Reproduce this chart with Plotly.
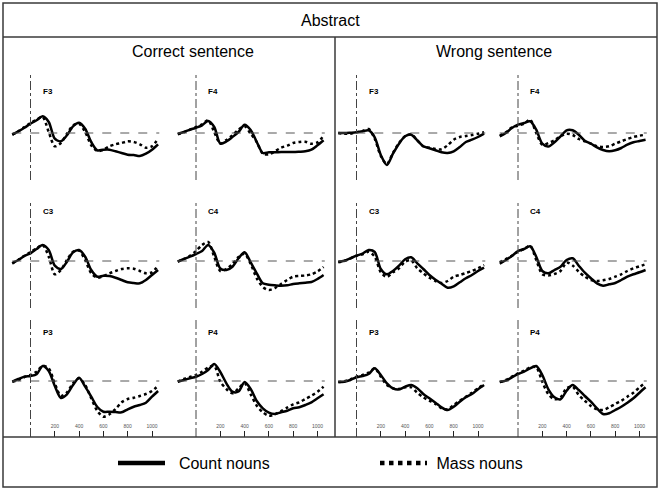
import plotly.graph_objects as go

W, H = 661, 490

# time axis of every panel (ms after noun onset)
time_ms = [-150, -100, -50, 0, 50, 100, 150, 200, 250, 300, 350, 400, 450,
           500, 550, 600, 650, 700, 750, 800, 850, 900, 950, 1000, 1050]
tick_ms = [200, 400, 600, 800, 1000]
tick_text = ["200", "400", "600", "800", "1000"]

electrode_rows = [["F3", "F4"], ["C3", "C4"], ["P3", "P4"]]
conditions = ["Correct sentence", "Wrong sentence"]
series_names = ["Count nouns", "Mass nouns"]

# amplitudes, positive = up (arbitrary units)
correct_F3_count = [-1.7, 1.7, 5.3, 9.3, 12.7, 16.7, 11, -5.7, -8.3, -2.3, 6.7, 10.3, 4.3, -9, -17.3, -16.7, -16.7, -18.3, -20, -21.7, -22, -23, -20.7, -16.7, -11.3]
correct_F3_mass = [-1.7, 1.7, 6, 10, 13.3, 16, 1, -13.3, -10, -0.7, 7.7, 9.3, 1, -12.3, -18, -16.7, -13.3, -11.3, -10, -8.3, -9, -11.3, -14.7, -13.3, -5.7]
correct_F4_count = [-0.7, 1, 3.3, 5.3, 7.7, 12, 6, -10.5, -8.5, -4, 1, 8.3, 3, -9, -20, -19.3, -19.3, -19, -19, -19, -18.7, -18.3, -16.7, -12.3, -7.3]
correct_F4_mass = [-1.3, 0.7, 3.3, 6, 8.7, 12.7, 1, -10.7, -7, -2.3, 3.3, 6.7, -0.7, -9, -20.7, -21.3, -18.3, -14.7, -12.7, -10, -9, -8.7, -10.7, -9.3, -2.7]
correct_C3_count = [-2.3, 1, 5, 7.7, 12, 16, 11, -4.7, -8, -0.7, 8.7, 11, 4.3, -9, -15.7, -14.7, -15, -16.7, -19, -21.3, -22, -22.3, -19, -14, -9]
correct_C3_mass = [-2.3, 1.3, 5.3, 8.7, 12.7, 16, 4.3, -13.3, -9, 1, 9.3, 10.3, 1, -12.3, -16.7, -15, -12.3, -10, -8, -7.3, -7.7, -10, -12.3, -11.3, -4.7]
correct_C4_count = [-0.7, 2, 4.3, 7, 10, 16, 8.3, -7.5, -9, -5.7, 2.7, 8.7, -1.3, -12.3, -22.3, -23.7, -24.3, -24.7, -24.3, -23, -22.3, -21.7, -21, -18, -14]
correct_C4_mass = [-0.7, 2, 5.3, 10, 16, 19, 4.3, -10, -8, -3, 4, 7.3, -3, -17.3, -26, -29, -27, -23, -19, -15.7, -15, -14.5, -13.3, -10.5, -6]
correct_P3_count = [-0.7, 2, 4.3, 5, 6.7, 15, 10, -5, -17, -13.3, -4, 3.3, -5.7, -15.7, -26, -30.7, -30.7, -31, -31.3, -28.3, -25.7, -24, -21.7, -15.7, -10]
correct_P3_mass = [-0.7, 1, 4, 6, 9.3, 15.3, 12.7, -2.3, -15, -11.3, -2.3, 2.7, -4, -17.3, -30, -35.7, -33.3, -28, -21.3, -18, -16.7, -15, -13, -10, -4.7]
correct_P4_count = [-0.7, 1, 2.7, 4.3, 7, 11, 17, 9, -2.3, -10.7, -10.5, -1, -8, -20, -27.3, -31.7, -33, -31.3, -29.7, -27.3, -26.3, -24, -21.3, -17.3, -13.3]
correct_P4_mass = [-0.7, 2, 4, 6, 9.3, 13.5, 15, -0.7, -8, -12.3, -7.3, -2.3, -13.3, -24.7, -31.3, -34.7, -33.3, -30, -26.7, -23.3, -21.3, -18, -14.7, -10.7, -5.7]

wrong_F3_count = [0, 0, 0.3, 0.7, 1.7, 2.7, -4.3, -22, -32, -20.7, -10.7, -3.3, -1.7, -7.3, -13.3, -15.3, -17.3, -19.3, -20, -18.3, -14, -9, -6.7, -4, -0.7]
wrong_F3_mass = [0, -0.7, -0.7, 0.7, 2, 4, -5.7, -23, -31, -20, -10, -3.3, -1.3, -7.3, -13.3, -14.7, -16, -16.3, -12.3, -6.7, -4, -3, -2, -0.7, 0.7]
wrong_F4_count = [-3.3, 0, 5, 8.3, 10, 11.7, 3.3, -10.7, -13.5, -9.3, -3.3, 2.7, 2.7, -1.7, -7.7, -10.7, -14.3, -17, -18.3, -17.3, -15, -11.7, -9.3, -8, -6.7]
wrong_F4_mass = [-2.7, 0.7, 5.7, 7.3, 9.3, 13.3, 0, -11.7, -10, -7.3, -3.3, -0.7, -2, -6, -8.3, -10.7, -13.3, -14, -13.3, -10.7, -8.3, -6, -4, -2.7, -1.7]
wrong_C3_count = [-0.7, 0.3, 2.7, 5.3, 7.3, 11, 9, -8, -13.3, -10, -4.7, 1.7, 3.7, -2.3, -8, -14, -18.7, -22.7, -26.7, -25.3, -21.3, -17.3, -14, -10, -6.7]
wrong_C3_mass = [-1.3, 0, 2.7, 5.3, 6.7, 9.3, 4.3, -11.3, -16, -11.3, -7.3, -0.7, 0.7, -7.3, -12.3, -16.7, -20, -22, -20, -15.7, -14, -12, -10, -7.3, -4]
wrong_C4_count = [-2.7, 1, 5, 10, 12, 14.7, 4.3, -10, -12.3, -9, -5.7, 1, 2.7, -4.7, -11.7, -17.3, -22.3, -24.7, -23.3, -22, -19, -15.7, -13.3, -11.3, -9]
wrong_C4_mass = [-1.3, 2, 5.3, 9.3, 12, 15.3, 1, -13.3, -14.5, -13, -10, -1.5, -4.5, -10.7, -15.7, -19, -20, -19.3, -18, -15.7, -13.3, -10, -7.3, -5.3, -3.3]
wrong_P3_count = [-1, -0.7, 1, 3.7, 5, 7, 12.7, 6, -2.3, -7.3, -8.3, -5.7, -4, -7.3, -13, -17.3, -21.7, -26.3, -29, -25.7, -20.7, -16.3, -13, -8.3, -4]
wrong_P3_mass = [-1, -0.3, 1.7, 4.3, 6, 8.3, 12.7, 4.3, -4, -7.3, -8, -6.3, -6.3, -11.7, -16.3, -19.7, -23, -27.3, -28.3, -24, -19.7, -15.7, -11.7, -7.3, -3]
wrong_P4_count = [-1, 0.3, 3.7, 7, 9.3, 12.7, 15, 6, -8.3, -16.3, -18.3, -9.7, -4, -9, -15, -20.7, -27.3, -33, -32.3, -29, -25.7, -21.7, -17.3, -11.7, -6.3]
wrong_P4_mass = [-1, 1, 4.3, 7.7, 10.3, 13.7, 13.7, -0.7, -13.3, -18.3, -16.3, -7.3, -5.7, -14, -19.7, -25, -28.3, -29, -26.3, -23, -19.7, -15.7, -11.7, -6.3, -1.7]

panel_data = [
    [(correct_F3_count, correct_F3_mass), (correct_F4_count, correct_F4_mass),
     (wrong_F3_count, wrong_F3_mass), (wrong_F4_count, wrong_F4_mass)],
    [(correct_C3_count, correct_C3_mass), (correct_C4_count, correct_C4_mass),
     (wrong_C3_count, wrong_C3_mass), (wrong_C4_count, wrong_C4_mass)],
    [(correct_P3_count, correct_P3_mass), (correct_P4_count, correct_P4_mass),
     (wrong_P3_count, wrong_P3_mass), (wrong_P4_count, wrong_P4_mass)],
]

# --- geometry (pixels of the 661x490 page) ---
PX_PER_MS = 0.1215
zero_px = [30.5, 196, 356.5, 518]     # stimulus onset of each column
base_px = [133, 261, 381]             # baseline of each row
X_RANGE = [-200, 1100]
Y_RANGE = [-56, 64]                   # 1 unit = 1 px
label_y = [42, 49, 49]
FONT = "Liberation Sans, Arial, sans-serif"
BOX = "#3a3a3a"


def fx(p):
    return p / W


def fy(p):
    return 1 - p / H


fig = go.Figure()
layout = dict(width=W, height=H, margin=dict(l=0, r=0, t=0, b=0),
              paper_bgcolor="white", plot_bgcolor="rgba(0,0,0,0)",
              font=dict(family=FONT, color="black"), shapes=[], annotations=[])

idx = 0
for r in range(3):
    for c in range(4):
        idx += 1
        sfx = "" if idx == 1 else str(idx)
        count, mass = panel_data[r][c]
        x0 = zero_px[c] + X_RANGE[0] * PX_PER_MS
        x1 = zero_px[c] + X_RANGE[1] * PX_PER_MS
        ytop = base_px[r] - Y_RANGE[1]
        ybot = base_px[r] - Y_RANGE[0]
        xa = dict(domain=[fx(x0), fx(x1)], range=X_RANGE, anchor="y" + sfx,
                  showgrid=False, zeroline=False, showline=False, fixedrange=True)
        if r == 2:
            xa.update(tickvals=tick_ms, ticktext=tick_text, ticks="inside",
                      ticklen=6, tickwidth=1, tickcolor="#222",
                      ticklabelposition="inside",
                      tickfont=dict(size=5, color="#555"))
        else:
            xa.update(showticklabels=False, ticks="")
        layout["xaxis" + sfx] = xa
        layout["yaxis" + sfx] = dict(domain=[fy(ybot), fy(ytop)], range=Y_RANGE,
                                     anchor="x" + sfx, visible=False, fixedrange=True)

        # baseline and onset lines
        layout["shapes"].append(dict(type="line", xref="x" + sfx, yref="y" + sfx,
                                     x0=-150, x1=1060, y0=0, y1=0,
                                     line=dict(color="#555", width=1, dash="dash")))
        vbot = -56 if r == 2 else -47
        layout["shapes"].append(dict(type="line", xref="x" + sfx, yref="y" + sfx,
                                     x0=0, x1=0, y0=vbot, y1=61,
                                     line=dict(color="#444", width=1, dash="dashdot")))
        layout["annotations"].append(dict(xref="x" + sfx, yref="y" + sfx, x=85,
                                          y=label_y[r], text="<b>%s</b>" % electrode_rows[r][c % 2],
                                          showarrow=False, xanchor="left", yanchor="middle",
                                          font=dict(size=8)))

        fig.add_trace(go.Scatter(x=time_ms, y=mass, mode="lines", xaxis="x" + sfx,
                                 yaxis="y" + sfx, showlegend=False, hoverinfo="skip",
                                 line=dict(color="black", width=2.5, dash="dot",
                                           shape="spline", smoothing=0.8)))
        fig.add_trace(go.Scatter(x=time_ms, y=count, mode="lines", xaxis="x" + sfx,
                                 yaxis="y" + sfx, showlegend=False, hoverinfo="skip",
                                 line=dict(color="black", width=2.5,
                                           shape="spline", smoothing=0.8)))

# legend entries
fig.add_trace(go.Scatter(x=[None], y=[None], mode="lines",
                         name="\u00a0\u00a0" + series_names[0],
                         line=dict(color="black", width=4.5)))
fig.add_trace(go.Scatter(x=[None], y=[None], mode="lines",
                         name="\u00a0" + series_names[1],
                         line=dict(color="black", width=4.5, dash="dot")))

# frame of the figure
line = dict(color=BOX, width=1.5)
layout["shapes"] += [
    dict(type="rect", xref="paper", yref="paper", x0=fx(3), x1=fx(657),
         y0=fy(487), y1=fy(3), line=line),
    dict(type="line", xref="paper", yref="paper", x0=fx(3), x1=fx(657),
         y0=fy(37), y1=fy(37), line=line),
    dict(type="line", xref="paper", yref="paper", x0=fx(3), x1=fx(657),
         y0=fy(437), y1=fy(437), line=line),
    dict(type="line", xref="paper", yref="paper", x0=fx(335), x1=fx(335),
         y0=fy(437), y1=fy(37), line=line),
]
layout["annotations"] += [
    dict(xref="paper", yref="paper", x=fx(330), y=fy(20), text="Abstract",
         showarrow=False, xanchor="center", yanchor="middle", font=dict(size=16)),
    dict(xref="paper", yref="paper", x=fx(193), y=fy(51), text=conditions[0],
         showarrow=False, xanchor="center", yanchor="middle", font=dict(size=16)),
    dict(xref="paper", yref="paper", x=fx(494), y=fy(51), text=conditions[1],
         showarrow=False, xanchor="center", yanchor="middle", font=dict(size=16)),
]

layout["legend"] = dict(orientation="h", x=fx(113), y=fy(463), xanchor="left",
                        yanchor="middle", font=dict(size=16), itemwidth=47,
                        entrywidth=200, entrywidthmode="pixels",
                        bgcolor="rgba(0,0,0,0)", traceorder="normal",
                        itemclick=False, itemdoubleclick=False)

fig.update_layout(**layout)
fig.write_html("out.html", config={"displayModeBar": False},
               post_script="document.body.style.margin='0';")
